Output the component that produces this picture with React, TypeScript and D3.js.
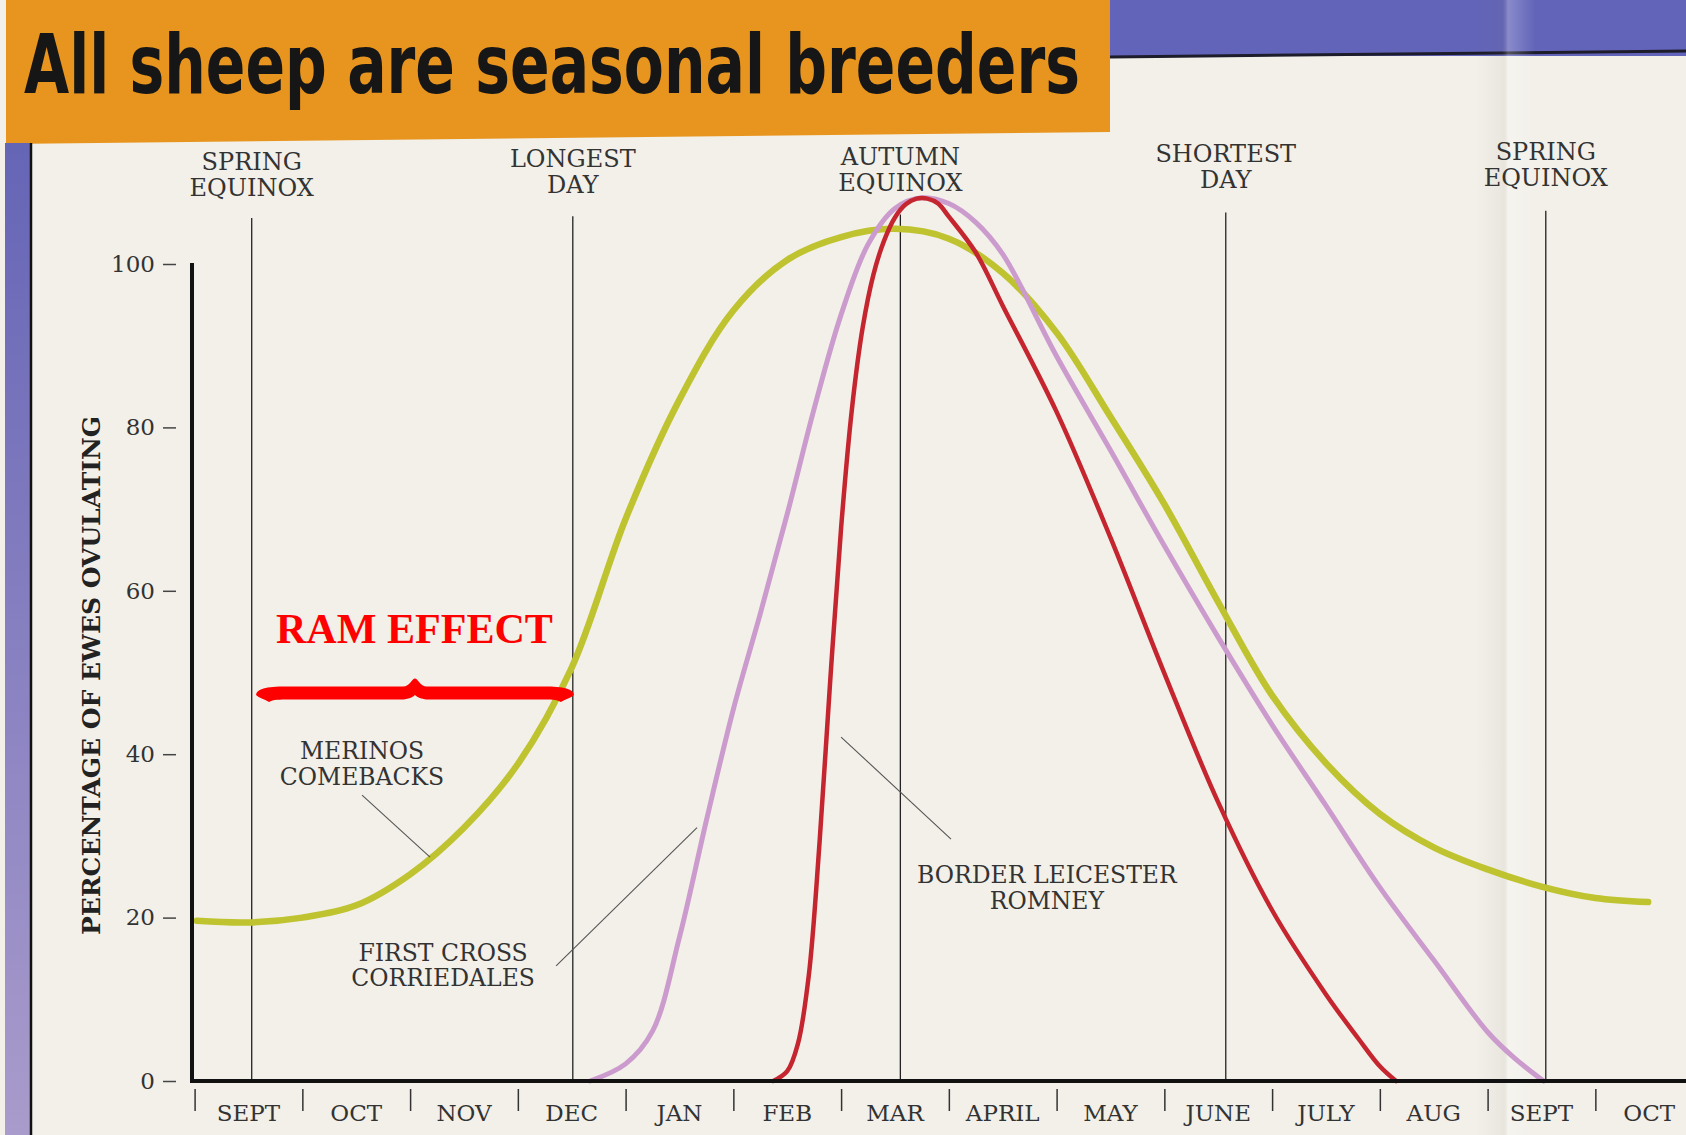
import React, { useEffect, useRef } from 'react';
import * as d3 from 'd3';

// months along the bottom, Sept -> Oct of the next year
const months = ['SEPT', 'OCT', 'NOV', 'DEC', 'JAN', 'FEB', 'MAR', 'APRIL', 'MAY', 'JUNE', 'JULY', 'AUG', 'SEPT', 'OCT'];
const yTicks = [0, 20, 40, 60, 80, 100];

// solstice / equinox markers (position in months from start of Sept)
const eventNames = [['SPRING', 'EQUINOX'], ['LONGEST', 'DAY'], ['AUTUMN', 'EQUINOX'], ['SHORTEST', 'DAY'], ['SPRING', 'EQUINOX']];
const eventMonths = [0.53, 3.51, 6.55, 9.57, 12.54];

// [month, % of ewes ovulating]
const merinos: [number, number][] = [
  [0.02, 19.6], [0.5, 19.4], [1.0, 20.0], [1.5, 21.5], [2.0, 25.3], [2.5, 31.0],
  [3.0, 38.8], [3.5, 50.6], [4.0, 68.8], [4.5, 83.4], [5.0, 94.3], [5.5, 100.5],
  [6.0, 103.3], [6.5, 104.3], [7.0, 103.1], [7.5, 98.9], [8.0, 91.6], [8.5, 81.3],
  [9.0, 70.6], [9.5, 58.6], [10.0, 47.2], [10.5, 38.9], [11.0, 32.7], [11.5, 28.6],
  [12.0, 25.9], [12.5, 23.8], [13.0, 22.4], [13.49, 21.9],
];
const corriedales: [number, number][] = [
  [3.67, 0], [4.0, 2.1], [4.25, 6.1], [4.5, 17.6], [4.75, 31.9], [5.0, 45.5],
  [5.25, 57.2], [5.5, 69.4], [5.75, 82.3], [6.0, 93.8], [6.25, 102.4], [6.5, 106.8],
  [6.75, 108.1], [7.0, 107.4], [7.25, 105.1], [7.5, 101.2], [8.0, 88.7], [8.5, 77.2],
  [9.0, 65.5], [9.5, 54.3], [10.0, 43.6], [10.5, 33.7], [11.0, 23.7], [11.5, 14.8],
  [12.0, 6.0], [12.25, 2.8], [12.52, 0],
];
const borderLeicester: [number, number][] = [
  [5.37, 0], [5.5, 1.2], [5.6, 4.6], [5.7, 12.9], [5.8, 29.2], [5.9, 49.2],
  [6.0, 67.7], [6.1, 82.2], [6.2, 92.2], [6.3, 98.7], [6.4, 102.9], [6.5, 105.7],
  [6.6, 107.3], [6.7, 108.0], [6.8, 108.0], [6.9, 107.4], [7.0, 105.8], [7.25, 101.4],
  [7.5, 94.9], [8.0, 81.9], [8.5, 66.5], [9.0, 49.9], [9.5, 34.1], [10.0, 20.9],
  [10.5, 10.6], [10.8, 5.2], [11.0, 1.8], [11.15, 0],
];

// annotations: [month, value]
const ramEffect = { start: 0.57, end: 3.52, level: 47.5, label: [2.04, 53.6] };
const labels = [
  { lines: ['MERINOS', 'COMEBACKS'], at: [1.554, 39.4], leader: [[1.554, 35.0], [2.185, 27.4]] },
  { lines: ['FIRST CROSS', 'CORRIEDALES'], at: [2.306, 14.7], leader: [[3.355, 14.1], [4.663, 31.0]] },
  { lines: ['BORDER LEICESTER', 'ROMNEY'], at: [7.91, 24.2], leader: [[6.0, 42.1], [7.02, 29.6]] },
];

const W = 1686;
const H = 1135;
const SERIF = "'DejaVu Serif', 'Liberation Serif', serif";

export default function App() {
  const ref = useRef<SVGSVGElement>(null);

  useEffect(() => {
    draw();
  }, []);

  function draw() {
    const svg = d3.select(ref.current);
    svg.selectAll('*').remove();

    const x = d3.scaleLinear().domain([0, 14]).range([194.6, 194.6 + 14 * 107.75]);
    const y = d3.scaleLinear().domain([0, 100]).range([1081, 264]);

    const defs = svg.append('defs');
    const strip = defs.append('linearGradient').attr('id', 'strip').attr('x1', 0).attr('y1', 0).attr('x2', 0).attr('y2', 1);
    strip.append('stop').attr('offset', 0).attr('stop-color', '#6565b6');
    strip.append('stop').attr('offset', 1).attr('stop-color', '#a99bcb');
    const fold = defs.append('linearGradient').attr('id', 'fold');
    fold.append('stop').attr('offset', 0).attr('stop-color', 'rgba(120,110,90,0)');
    fold.append('stop').attr('offset', 0.45).attr('stop-color', 'rgba(120,110,90,0.07)');
    fold.append('stop').attr('offset', 0.55).attr('stop-color', 'rgba(255,255,255,0.25)');
    fold.append('stop').attr('offset', 1).attr('stop-color', 'rgba(255,255,255,0)');

    // paper and page furniture
    svg.append('rect').attr('width', W).attr('height', H).attr('fill', '#f2f0e9');
    svg.append('rect').attr('x', 1110).attr('y', 0).attr('width', W - 1110).attr('height', 56).attr('fill', '#6264b9');
    svg.append('path').attr('d', `M1110,57 L${W},51`).attr('stroke', '#1c1c2a').attr('stroke-width', 3);
    svg.append('path').attr('d', 'M6,0 L1110,0 L1110,132 L6,144 Z').attr('fill', '#e8951f');
    svg.append('rect').attr('x', 5).attr('y', 143).attr('width', 26).attr('height', H - 143).attr('fill', 'url(#strip)');
    svg.append('line').attr('x1', 31).attr('x2', 31).attr('y1', 143).attr('y2', H).attr('stroke', '#111').attr('stroke-width', 2.5);
    svg.append('rect').attr('x', 1475).attr('y', 0).attr('width', 60).attr('height', H).attr('fill', 'url(#fold)');

    svg.append('text')
      .attr('x', 24).attr('y', 93)
      .attr('textLength', 1056).attr('lengthAdjust', 'spacingAndGlyphs')
      .attr('font-family', "'DejaVu Sans Condensed', 'DejaVu Sans', sans-serif")
      .attr('font-weight', 'bold').attr('font-size', 82).attr('fill', '#161616')
      .text('All sheep are seasonal breeders');

    // event markers
    eventMonths.forEach((m, i) => {
      svg.append('line')
        .attr('x1', x(m)).attr('x2', x(m))
        .attr('y1', 218 - i * 1.8).attr('y2', y(0))
        .attr('stroke', '#222').attr('stroke-width', 1.3);
      const t = svg.append('text')
        .attr('font-family', SERIF).attr('font-size', 24).attr('fill', '#333')
        .attr('text-anchor', 'middle');
      eventNames[i].forEach((s, j) => {
        t.append('tspan').attr('x', x(m)).attr('y', 170 - i * 2.6 + j * 26).text(s);
      });
    });

    // curves
    const line = d3.line<[number, number]>()
      .x((d) => x(d[0]))
      .y((d) => y(d[1]))
      .curve(d3.curveCatmullRom.alpha(0.5));

    svg.append('path').attr('d', line(merinos)!).attr('fill', 'none')
      .attr('stroke', '#bec32f').attr('stroke-width', 6.5).attr('stroke-linecap', 'round');
    svg.append('path').attr('d', line(corriedales)!).attr('fill', 'none')
      .attr('stroke', '#cc9bcd').attr('stroke-width', 5).attr('stroke-linecap', 'round');
    svg.append('path').attr('d', line(borderLeicester)!).attr('fill', 'none')
      .attr('stroke', '#c5252f').attr('stroke-width', 4.5).attr('stroke-linecap', 'round');

    // axes
    const yAxis = svg.append('g')
      .attr('transform', 'translate(176,0)')
      .call(d3.axisLeft(y).tickValues(yTicks).tickSize(13).tickPadding(8));
    yAxis.select('.domain').remove();
    yAxis.selectAll('.tick line').attr('stroke', '#444').attr('stroke-width', 1.5);
    yAxis.selectAll('.tick text').attr('font-family', SERIF).attr('font-size', 23).attr('fill', '#333');

    const xAxis = svg.append('g')
      .attr('transform', 'translate(0,1089)')
      .call(d3.axisBottom(x).tickValues(d3.range(0, 15)).tickSize(22).tickFormat(() => ''));
    xAxis.select('.domain').remove();
    xAxis.selectAll('.tick line').attr('stroke', '#333').attr('stroke-width', 1.5);

    months.forEach((mo, i) => {
      svg.append('text')
        .attr('x', x(i + 0.5)).attr('y', 1121)
        .attr('text-anchor', 'middle')
        .attr('font-family', SERIF).attr('font-size', 23).attr('fill', '#333')
        .text(mo);
    });

    svg.append('line').attr('x1', 192).attr('x2', W).attr('y1', y(0)).attr('y2', y(0))
      .attr('stroke', '#111').attr('stroke-width', 4);
    svg.append('line').attr('x1', 192).attr('x2', 192).attr('y1', y(100) - 1).attr('y2', y(0) + 2)
      .attr('stroke', '#111').attr('stroke-width', 4);

    svg.append('text')
      .attr('transform', `translate(100,${(y(0) + y(100)) / 2 + 3}) rotate(-90)`)
      .attr('text-anchor', 'middle')
      .attr('font-family', SERIF).attr('font-weight', 'bold').attr('font-size', 24).attr('fill', '#222')
      .attr('textLength', 519).attr('lengthAdjust', 'spacingAndGlyphs')
      .text('PERCENTAGE OF EWES OVULATING');

    // breed labels with leader lines
    labels.forEach((lb) => {
      const t = svg.append('text')
        .attr('font-family', SERIF).attr('font-size', 23.5).attr('fill', '#333')
        .attr('text-anchor', 'middle');
      lb.lines.forEach((s, j) => {
        t.append('tspan').attr('x', x(lb.at[0])).attr('y', y(lb.at[1]) + j * 25.5).text(s);
      });
      svg.append('line')
        .attr('x1', x(lb.leader[0][0])).attr('y1', y(lb.leader[0][1]))
        .attr('x2', x(lb.leader[1][0])).attr('y2', y(lb.leader[1][1]))
        .attr('stroke', '#555').attr('stroke-width', 1.1);
    });

    // ram effect brace
    const L = x(ramEffect.start);
    const R = x(ramEffect.end);
    const M = (L + R) / 2;
    const c = y(ramEffect.level);
    const brace = [
      `M${L},${c + 2}`,
      `C${L},${c - 4} ${L + 10},${c - 6.5} ${L + 30},${c - 6.5}`,
      `L${M - 12},${c - 6.5}`,
      `C${M - 5},${c - 6.5} ${M - 3},${c - 14.5} ${M},${c - 14.5}`,
      `C${M + 3},${c - 14.5} ${M + 5},${c - 6.5} ${M + 12},${c - 6.5}`,
      `L${R - 30},${c - 6.5}`,
      `C${R - 10},${c - 6.5} ${R},${c - 4} ${R},${c + 2}`,
      `C${R - 3},${c + 5} ${R - 8},${c + 6} ${R - 13},${c + 9}`,
      `C${R - 17},${c + 6.5} ${R - 24},${c + 6.5} ${R - 32},${c + 6.5}`,
      `L${M + 14},${c + 6.5}`,
      `C${M + 6},${c + 6.5} ${M + 2},${c + 4} ${M},${c + 2}`,
      `C${M - 2},${c + 4} ${M - 6},${c + 6.5} ${M - 14},${c + 6.5}`,
      `L${L + 32},${c + 6.5}`,
      `C${L + 24},${c + 6.5} ${L + 17},${c + 6.5} ${L + 13},${c + 9}`,
      `C${L + 8},${c + 6} ${L + 3},${c + 5} ${L},${c + 2}`,
      'Z',
    ].join(' ');
    svg.append('path').attr('d', brace).attr('fill', '#ff0000');

    svg.append('text')
      .attr('x', x(ramEffect.label[0])).attr('y', y(ramEffect.label[1]))
      .attr('text-anchor', 'middle')
      .attr('font-family', "'Liberation Serif', 'Times New Roman', serif")
      .attr('font-weight', 'bold').attr('font-size', 43).attr('fill', '#ff0000')
      .attr('textLength', 277).attr('lengthAdjust', 'spacingAndGlyphs')
      .text('RAM EFFECT');
  }

  return (
    <svg ref={ref} width={W} height={H} style={{ position: 'absolute', left: 0, top: 0, display: 'block' }} />
  );
}
